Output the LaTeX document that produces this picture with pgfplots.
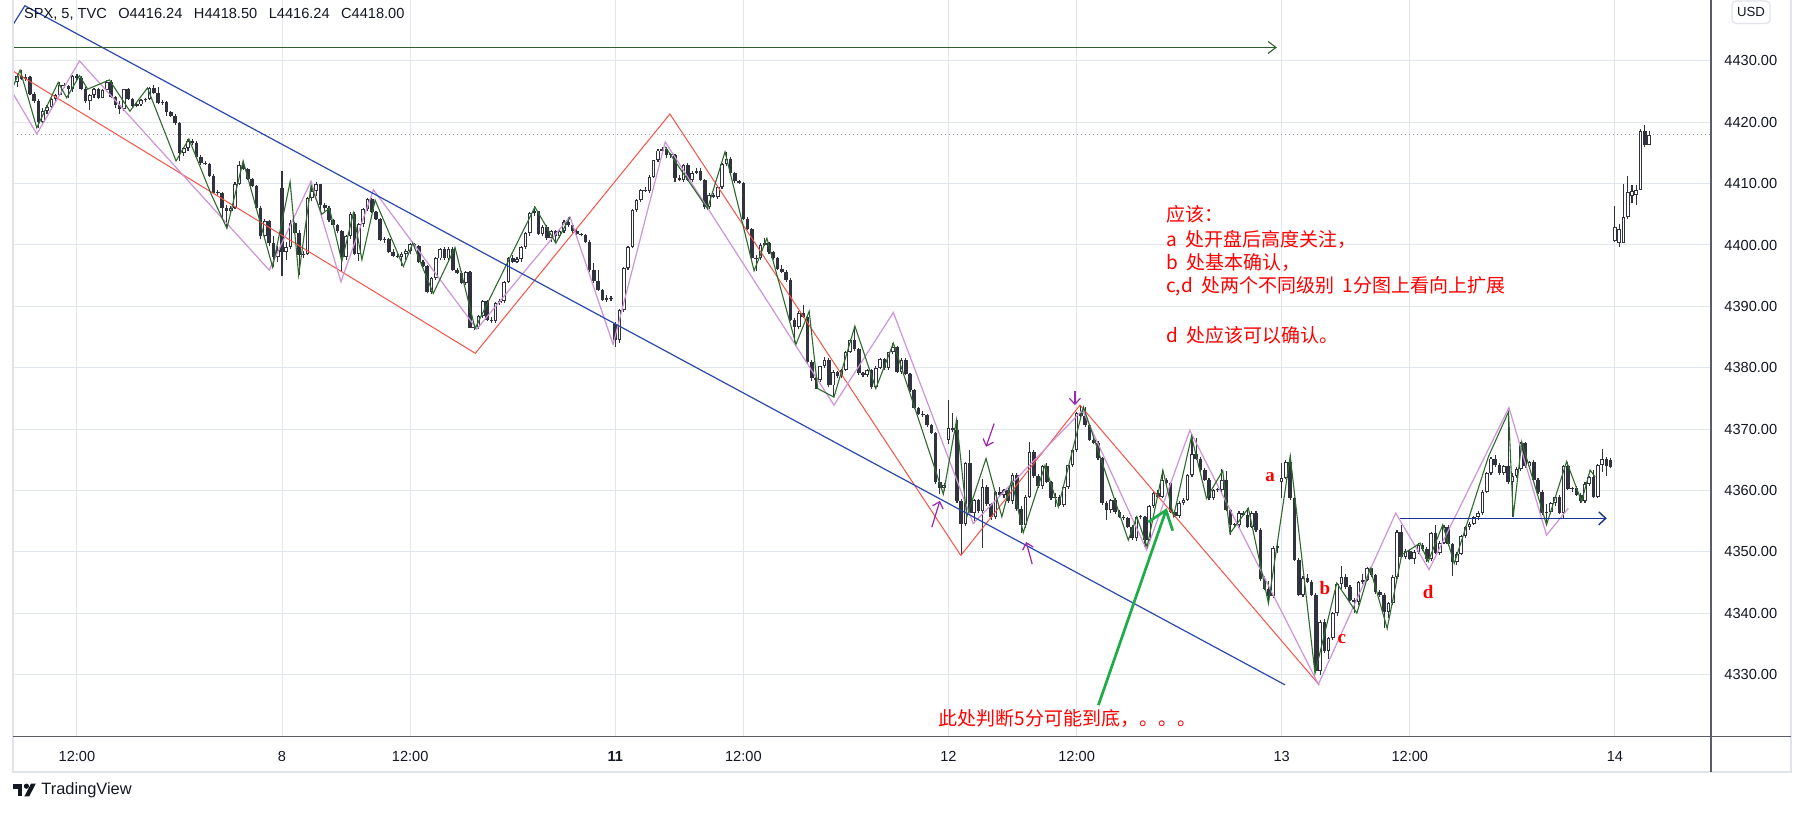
\documentclass[border=0pt]{standalone}
\usepackage{fontspec}
\setmainfont{Liberation Sans}
\newfontfamily\cjk{Noto Sans CJK SC}
\newfontfamily\serifm{Liberation Serif}
\usepackage{pgfplots}
\usepackage{pgfplotstable}
\pgfplotsset{compat=1.18}
\usetikzlibrary{arrows.meta}

\definecolor{cdark}{RGB}{48,51,62}
\definecolor{gridc}{RGB}{226,231,238}
\definecolor{zzgreen}{RGB}{46,106,46}
\definecolor{zzviolet}{RGB}{206,147,216}
\definecolor{zzred}{RGB}{245,82,72}
\definecolor{tblue}{RGB}{43,72,175}
\definecolor{hgreen}{RGB}{45,95,45}
\definecolor{hblue}{RGB}{25,50,150}
\definecolor{bgreen}{RGB}{28,172,72}
\definecolor{apurple}{RGB}{156,39,176}
\definecolor{tvtext}{RGB}{19,23,34}
\definecolor{axisc}{RGB}{90,93,104}
\definecolor{framec}{RGB}{224,227,235}
\definecolor{annred}{RGB}{255,0,0}
\definecolor{pricedot}{RGB}{150,155,165}

\pgfplotstableread{
b o h l c
-62 4426.6 4427.9 4425.8 4427.6
-61 4427.6 4428.5 4426.9 4427.1
-60 4427.1 4427.9 4426.7 4427.3
-59 4427.3 4427.5 4424.4 4424.6
-58 4424.6 4425.0 4423.2 4423.4
-57 4423.4 4423.8 4419.1 4420.1
-56 4420.1 4422.3 4419.6 4421.9
-55 4421.9 4422.8 4421.4 4422.5
-54 4422.5 4424.0 4422.0 4423.8
-53 4423.8 4424.6 4423.4 4424.5
-52 4424.5 4426.5 4424.3 4426.1
-51 4426.1 4426.4 4425.6 4425.9
-50 4425.9 4426.1 4424.0 4425.4
-49 4425.4 4427.7 4425.0 4427.5
-48 4427.5 4427.9 4426.9 4427.2
-47 4427.2 4427.6 4425.2 4425.5
-46 4425.5 4425.7 4423.2 4423.4
-45 4423.4 4424.6 4422.0 4424.5
-44 4424.5 4425.6 4424.0 4425.4
-43 4425.4 4425.6 4423.8 4424.0
-42 4424.0 4425.5 4423.9 4425.3
-41 4425.3 4426.9 4425.1 4426.6
-40 4426.6 4426.9 4424.0 4424.1
-39 4424.1 4424.3 4422.3 4422.8
-38 4422.8 4423.5 4421.3 4422.1
-37 4422.1 4425.5 4421.9 4425.4
-36 4425.4 4425.6 4423.6 4423.8
-35 4423.8 4424.0 4422.5 4422.7
-34 4422.7 4423.1 4422.5 4422.9
-33 4422.9 4423.8 4422.7 4423.6
-32 4423.6 4424.0 4423.3 4423.8
-31 4423.8 4425.8 4423.6 4425.6
-30 4425.6 4426.1 4424.6 4424.8
-29 4424.8 4425.7 4422.9 4423.1
-28 4423.1 4423.6 4422.8 4423.3
-27 4423.3 4423.5 4421.0 4421.6
-26 4421.6 4421.9 4420.9 4421.1
-25 4421.1 4421.3 4419.6 4419.9
-24 4419.9 4420.0 4413.7 4415.0
-23 4415.0 4416.0 4414.5 4415.8
-22 4415.8 4417.3 4415.4 4416.9
-21 4416.9 4417.2 4416.3 4416.6
-20 4416.6 4416.9 4414.2 4414.4
-19 4414.4 4414.6 4413.1 4413.3
-18 4413.3 4413.7 4413.0 4413.2
-17 4413.2 4413.4 4411.1 4411.3
-16 4411.3 4411.5 4408.3 4408.4
-15 4408.4 4408.9 4408.1 4408.5
-14 4408.5 4408.6 4404.4 4406.1
-13 4406.1 4406.5 4402.7 4405.5
-12 4405.5 4406.3 4405.0 4406.1
-11 4406.1 4410.2 4405.9 4410.0
-10 4410.0 4413.7 4409.8 4413.0
-9 4413.0 4413.7 4412.2 4412.4
-8 4412.4 4412.6 4410.6 4410.8
-7 4410.8 4411.0 4409.4 4409.6
-6 4409.6 4409.8 4405.9 4406.1
-5 4406.1 4406.3 4400.9 4401.4
-4 4401.4 4404.2 4401.0 4403.9
-3 4403.9 4404.0 4399.9 4400.4
-2 4400.4 4401.5 4396.4 4398.0
-1 4398.0 4399.9 4397.3 4399.2
0 4409.3 4412.1 4394.9 4398.9
1 4398.9 4400.5 4397.5 4399.6
2 4399.6 4404.0 4399.3 4403.6
3 4403.6 4403.8 4401.8 4402.0
4 4402.0 4402.4 4395.1 4398.4
5 4398.4 4399.0 4397.8 4398.6
6 4398.6 4407.8 4398.3 4407.6
7 4407.6 4409.7 4407.2 4408.8
8 4408.8 4410.3 4408.0 4409.9
9 4409.9 4410.0 4405.4 4406.5
10 4406.5 4406.8 4405.5 4406.0
11 4406.0 4406.3 4403.7 4404.0
12 4404.0 4404.3 4403.0 4403.3
13 4403.3 4403.5 4401.9 4402.2
14 4402.2 4402.5 4395.6 4398.1
15 4398.1 4401.7 4397.5 4401.5
16 4401.5 4405.3 4401.0 4405.1
17 4405.1 4405.3 4398.3 4398.6
18 4398.6 4403.6 4397.4 4403.4
19 4403.4 4406.0 4403.0 4405.9
20 4405.9 4407.6 4405.5 4407.5
21 4407.5 4407.7 4405.2 4405.4
22 4405.4 4405.6 4404.0 4404.2
23 4404.2 4404.4 4400.6 4400.8
24 4400.8 4401.3 4400.4 4401.0
25 4401.0 4401.2 4398.7 4398.9
26 4398.9 4399.4 4398.0 4398.2
27 4398.2 4398.6 4397.8 4398.1
28 4398.1 4398.8 4396.5 4398.5
29 4398.5 4399.3 4397.6 4399.0
30 4399.0 4400.3 4398.6 4400.1
31 4400.1 4400.4 4399.6 4399.8
32 4399.8 4400.0 4397.1 4397.3
33 4397.3 4397.6 4396.4 4396.6
34 4396.6 4396.8 4392.1 4392.4
35 4392.4 4394.8 4392.0 4394.6
36 4394.6 4398.0 4394.3 4397.8
37 4397.8 4399.5 4397.5 4399.3
38 4399.3 4399.6 4397.6 4397.8
39 4397.8 4399.6 4397.5 4399.4
40 4399.4 4399.7 4395.7 4395.9
41 4395.9 4396.2 4395.2 4395.4
42 4395.4 4395.8 4393.6 4393.8
43 4393.8 4395.8 4393.5 4395.6
44 4395.6 4395.8 4386.4 4386.5
45 4386.5 4387.0 4386.2 4386.7
46 4386.7 4388.6 4386.3 4388.4
47 4388.4 4391.0 4388.1 4390.8
48 4390.8 4391.0 4387.6 4387.8
49 4387.8 4388.2 4387.3 4387.6
50 4387.6 4390.7 4387.3 4390.5
51 4390.5 4391.2 4390.3 4390.9
52 4390.9 4394.2 4390.6 4394.0
53 4394.0 4398.0 4393.8 4397.8
54 4397.8 4398.3 4397.0 4397.3
55 4397.3 4398.0 4397.0 4397.7
56 4397.7 4399.9 4397.3 4399.7
57 4399.7 4402.1 4399.4 4401.9
58 4401.9 4405.4 4401.4 4405.2
59 4405.2 4406.3 4404.8 4405.5
60 4405.5 4405.6 4401.6 4401.8
61 4401.8 4403.2 4401.5 4403.0
62 4403.0 4403.2 4400.8 4401.1
63 4401.1 4402.4 4400.5 4402.2
64 4402.2 4402.4 4400.3 4401.4
65 4401.4 4402.5 4401.1 4402.3
66 4402.3 4404.0 4402.0 4403.8
67 4403.8 4404.5 4402.9 4403.3
68 4403.3 4403.6 4402.0 4402.3
69 4402.3 4402.6 4401.5 4401.8
70 4401.8 4402.0 4401.4 4401.6
71 4401.6 4401.8 4400.3 4400.5
72 4400.5 4400.8 4395.6 4395.9
73 4395.9 4397.0 4393.8 4394.2
74 4394.2 4395.9 4392.5 4392.7
75 4392.7 4392.9 4390.8 4391.0
76 4391.0 4391.8 4390.7 4391.3
77 4391.3 4391.7 4390.9 4391.2
78 4387.2 4387.5 4383.4 4384.5
79 4384.5 4389.6 4384.0 4389.4
80 4389.4 4396.4 4389.1 4396.2
81 4396.2 4399.9 4396.0 4399.7
82 4399.7 4405.9 4399.5 4405.7
83 4405.7 4407.5 4405.4 4407.3
84 4407.3 4409.2 4407.0 4409.0
85 4409.0 4409.4 4408.6 4408.8
86 4408.8 4411.4 4408.5 4411.1
87 4411.1 4413.9 4410.9 4413.8
88 4413.8 4415.6 4413.5 4415.4
89 4415.4 4416.0 4415.0 4415.7
90 4415.7 4416.0 4414.2 4414.6
91 4414.6 4415.0 4414.2 4414.7
92 4414.7 4414.9 4410.3 4410.9
93 4410.9 4411.4 4410.4 4410.6
94 4410.6 4413.2 4410.3 4413.0
95 4413.0 4413.3 4410.4 4410.6
96 4410.6 4412.0 4410.3 4411.8
97 4411.8 4412.5 4411.5 4412.0
98 4412.0 4412.6 4410.4 4410.6
99 4410.6 4410.8 4405.9 4406.2
100 4406.2 4408.4 4405.9 4408.2
101 4408.2 4408.5 4407.6 4407.8
102 4407.8 4409.6 4407.5 4409.4
103 4409.4 4413.4 4409.1 4413.2
104 4413.2 4415.2 4412.8 4414.0
105 4414.0 4414.4 4411.4 4411.7
106 4411.7 4411.9 4410.1 4410.4
107 4410.4 4410.6 4409.9 4410.1
108 4410.1 4410.3 4404.1 4404.3
109 4404.3 4404.6 4402.4 4402.6
110 4402.6 4402.8 4397.5 4397.8
111 4397.8 4398.3 4395.8 4397.9
112 4397.9 4400.3 4397.5 4400.0
113 4400.0 4401.1 4399.8 4400.3
114 4400.3 4400.5 4398.6 4398.8
115 4398.8 4399.0 4397.6 4397.8
116 4397.8 4398.0 4395.9 4396.1
117 4396.1 4396.8 4395.4 4395.6
118 4395.6 4395.9 4394.0 4394.3
119 4394.3 4394.6 4387.6 4387.8
120 4387.8 4388.1 4383.8 4386.7
121 4386.7 4389.2 4386.3 4388.9
122 4388.9 4390.2 4388.1 4388.3
123 4388.3 4388.6 4380.8 4381.0
124 4381.0 4381.3 4377.9 4378.3
125 4378.3 4378.6 4376.6 4378.0
126 4378.0 4380.3 4377.7 4380.2
127 4380.2 4381.7 4379.9 4381.3
128 4381.3 4381.6 4376.8 4377.1
129 4377.1 4379.6 4375.2 4379.3
130 4379.3 4379.5 4378.4 4378.6
131 4378.6 4379.8 4378.4 4379.6
132 4379.6 4382.7 4379.4 4382.6
133 4382.6 4384.6 4382.4 4384.5
134 4384.5 4386.8 4382.8 4383.0
135 4383.0 4383.2 4378.8 4379.1
136 4379.1 4379.3 4378.5 4378.8
137 4378.8 4379.8 4378.5 4379.6
138 4379.6 4379.8 4376.6 4376.8
139 4376.8 4380.2 4376.5 4380.0
140 4380.0 4381.6 4379.8 4381.4
141 4381.4 4381.6 4379.6 4380.0
142 4380.0 4382.6 4379.7 4382.5
143 4382.5 4384.0 4382.2 4383.3
144 4383.3 4383.5 4379.1 4379.3
145 4379.3 4381.5 4379.0 4381.2
146 4381.2 4381.5 4378.8 4379.0
147 4379.0 4379.2 4376.1 4376.3
148 4376.3 4376.5 4373.2 4373.4
149 4373.4 4373.6 4372.3 4372.5
150 4372.5 4372.9 4372.0 4372.3
151 4372.3 4372.5 4370.4 4370.6
152 4370.6 4370.8 4369.2 4369.4
153 4369.4 4369.6 4361.1 4361.4
154 4361.4 4363.5 4359.4 4360.4
155 4360.4 4361.2 4359.9 4360.9
156 4368.2 4374.8 4367.6 4370.1
157 4370.1 4372.6 4369.5 4369.8
158 4369.8 4371.5 4358.0 4358.2
159 4358.2 4358.6 4349.7 4354.6
160 4354.6 4364.7 4354.2 4364.4
161 4364.4 4366.6 4356.0 4356.3
162 4356.3 4358.6 4355.0 4358.4
163 4358.4 4358.6 4356.3 4356.6
164 4356.6 4361.8 4350.6 4360.6
165 4360.6 4360.9 4357.5 4357.8
166 4357.8 4358.0 4355.2 4355.6
167 4355.6 4359.9 4355.3 4359.8
168 4359.8 4360.5 4358.9 4359.2
169 4359.2 4360.2 4358.8 4360.0
170 4360.0 4360.7 4357.9 4358.2
171 4358.2 4362.8 4357.8 4362.5
172 4362.5 4362.8 4356.6 4357.0
173 4357.0 4357.4 4353.1 4354.4
174 4354.4 4359.2 4353.8 4359.0
175 4359.0 4367.9 4358.7 4366.3
176 4366.3 4366.6 4362.0 4362.3
177 4362.3 4362.7 4360.4 4360.7
178 4360.7 4364.1 4360.3 4363.9
179 4363.9 4364.4 4361.2 4361.4
180 4361.4 4361.6 4358.4 4358.7
181 4358.7 4359.5 4357.3 4359.0
182 4359.0 4359.3 4357.4 4357.6
183 4357.6 4360.8 4357.3 4360.6
184 4360.6 4364.2 4360.3 4364.1
185 4364.1 4366.8 4363.8 4366.6
186 4366.6 4372.8 4366.3 4372.6
187 4372.6 4373.8 4371.9 4372.2
188 4372.2 4373.6 4370.4 4370.7
189 4370.7 4370.9 4368.0 4368.2
190 4368.2 4368.5 4367.5 4367.8
191 4367.8 4368.0 4365.0 4365.3
192 4365.3 4365.5 4357.7 4357.9
193 4357.9 4358.2 4355.2 4356.8
194 4356.8 4358.6 4356.4 4358.4
195 4358.4 4358.7 4356.2 4356.5
196 4356.5 4356.8 4355.5 4355.7
197 4355.7 4356.0 4355.2 4355.5
198 4355.5 4355.7 4353.8 4354.1
199 4354.1 4354.3 4351.9 4352.2
200 4352.2 4355.9 4351.8 4355.7
201 4355.7 4356.0 4355.3 4355.6
202 4355.6 4355.8 4350.8 4351.9
203 4351.9 4357.6 4351.5 4357.4
204 4357.4 4359.7 4357.1 4359.5
205 4359.5 4360.0 4358.8 4359.0
206 4359.0 4363.3 4358.7 4361.7
207 4361.7 4362.0 4360.9 4361.2
208 4361.2 4361.4 4356.3 4356.5
209 4356.5 4356.8 4355.6 4355.8
210 4355.8 4358.2 4355.5 4358.0
211 4358.0 4358.8 4357.6 4358.5
212 4358.5 4362.6 4358.2 4362.5
213 4362.5 4368.8 4362.2 4366.0
214 4366.0 4368.5 4365.0 4365.2
215 4365.2 4365.4 4363.0 4363.4
216 4363.4 4363.6 4361.5 4361.7
217 4361.7 4362.0 4358.5 4358.7
218 4358.7 4360.3 4358.4 4360.1
219 4360.1 4360.4 4359.7 4360.0
220 4360.0 4363.5 4359.6 4361.7
221 4361.7 4363.2 4356.6 4356.8
222 4356.8 4357.0 4352.8 4354.4
223 4354.4 4354.7 4353.9 4354.3
224 4354.3 4356.6 4353.9 4356.3
225 4356.3 4356.6 4355.8 4356.0
226 4356.0 4357.1 4353.8 4354.1
227 4354.1 4356.6 4353.9 4356.3
228 4356.3 4356.6 4353.3 4353.6
229 4353.6 4353.9 4345.2 4345.5
230 4345.5 4346.0 4343.7 4344.0
231 4344.0 4345.3 4341.6 4342.8
232 4342.8 4350.9 4342.5 4350.6
233 4350.6 4351.3 4349.8 4350.9
234 4361.4 4364.4 4358.7 4362.0
235 4362.0 4365.0 4361.8 4364.7
236 4364.7 4365.8 4358.5 4358.7
237 4358.7 4359.0 4348.5 4348.7
238 4348.7 4349.0 4342.8 4343.0
239 4343.0 4346.1 4342.7 4345.8
240 4345.8 4346.4 4344.9 4345.1
241 4345.1 4345.4 4342.8 4343.0
242 4343.0 4343.3 4330.2 4330.6
243 4330.6 4338.8 4329.9 4338.6
244 4338.6 4339.1 4333.5 4333.8
245 4333.8 4336.1 4332.5 4335.9
246 4335.9 4340.2 4335.6 4340.0
247 4340.0 4344.9 4339.6 4344.7
248 4344.7 4347.6 4343.9 4345.9
249 4345.9 4346.3 4344.0 4344.3
250 4344.3 4344.6 4342.0 4342.2
251 4342.2 4342.5 4340.0 4341.8
252 4341.8 4345.3 4341.3 4345.1
253 4345.1 4346.3 4344.8 4345.4
254 4345.4 4347.5 4345.2 4347.3
255 4347.3 4347.6 4345.9 4346.2
256 4346.2 4346.4 4343.1 4343.4
257 4343.4 4343.7 4342.6 4342.9
258 4342.9 4343.2 4337.5 4340.2
259 4340.2 4341.8 4339.2 4341.6
260 4341.6 4346.2 4341.3 4345.9
261 4345.9 4353.6 4345.6 4353.3
262 4353.3 4354.4 4349.0 4349.2
263 4349.2 4350.5 4348.9 4350.2
264 4350.2 4350.5 4348.6 4348.9
265 4348.9 4350.3 4348.0 4350.0
266 4350.0 4351.4 4349.7 4351.1
267 4351.1 4351.4 4350.1 4350.4
268 4350.4 4350.7 4348.4 4348.8
269 4348.8 4353.2 4348.5 4353.0
270 4353.0 4354.4 4349.6 4349.8
271 4349.8 4351.7 4349.5 4351.5
272 4351.5 4354.3 4351.2 4354.1
273 4354.1 4354.4 4351.0 4351.2
274 4351.2 4351.4 4346.0 4348.4
275 4348.4 4350.0 4347.8 4349.7
276 4349.7 4352.7 4349.4 4352.5
277 4352.5 4354.2 4352.2 4354.0
278 4354.0 4354.8 4353.6 4354.6
279 4354.6 4355.9 4354.3 4355.7
280 4355.7 4356.6 4355.2 4356.3
281 4356.3 4360.0 4356.0 4359.8
282 4359.8 4363.0 4359.5 4362.8
283 4362.8 4365.5 4362.5 4365.2
284 4365.2 4365.7 4363.8 4364.1
285 4364.1 4364.4 4362.5 4362.8
286 4362.8 4364.2 4362.5 4364.0
287 4364.0 4372.8 4361.0 4361.4
288 4361.4 4362.8 4355.7 4362.4
289 4362.4 4363.8 4362.0 4363.5
290 4363.5 4367.9 4363.2 4367.7
291 4367.7 4367.9 4363.7 4363.9
292 4363.9 4364.8 4363.6 4364.6
293 4364.6 4364.9 4361.5 4361.7
294 4361.7 4362.0 4359.4 4359.7
295 4359.7 4360.0 4356.0 4356.4
296 4356.4 4357.8 4354.4 4356.5
297 4356.5 4358.1 4356.2 4357.9
298 4357.9 4359.1 4357.5 4358.9
299 4358.9 4359.2 4356.1 4356.3
300 4356.3 4364.1 4355.5 4363.9
301 4363.9 4364.7 4360.1 4360.3
302 4360.3 4360.6 4359.8 4360.4
303 4360.4 4360.8 4359.1 4359.3
304 4359.3 4359.5 4357.9 4358.2
305 4358.2 4361.3 4357.9 4361.1
306 4361.1 4362.4 4360.8 4362.2
307 4362.2 4363.3 4358.8 4359.0
308 4359.0 4364.3 4358.7 4364.1
309 4364.1 4366.7 4363.0 4365.1
310 4365.1 4365.4 4362.3 4363.9
311 4365.0 4365.3 4363.6 4363.8
312 4400.6 4406.4 4400.5 4403.0
313 4400.4 4403.4 4399.6 4402.6
314 4400.4 4410.0 4400.3 4404.5
315 4404.5 4411.3 4404.2 4408.6
316 4408.0 4409.8 4406.8 4408.8
317 4408.2 4409.8 4406.5 4409.0
318 4409.0 4418.9 4408.9 4418.5
319 4418.5 4419.6 4416.0 4416.3
320 4416.24 4418.5 4416.24 4418.0
}\candles

\pgfplotsset{candle/.style={draw=none, mark=none,
  error bars/y dir=plus, error bars/y explicit, error bars/error mark=none}}

\begin{document}
\begin{tikzpicture}
\path[use as bounding box] (0,0) rectangle (902pt,410.5pt);
\fill[white] (0,0) rectangle (902pt,410.5pt);
\begin{axis}[
  at={(6.5pt,42.25pt)}, anchor=south west,
  scale only axis, width=849pt, height=368.25pt,
  xmin=-62.97, xmax=334.5, ymin=4319.89, ymax=4439.93,
  axis line style={draw=none},
  major tick length=0pt,
  grid=major, major grid style={draw=gridc, line width=0.5pt},
  xtick={-48,0,30,78,108,156,186,234,264,312},
  xticklabels={12:00,8,12:00,\textbf{11},12:00,12,12:00,13,12:00,14},
  ytick={4330,4340,4350,4360,4370,4380,4390,4400,4410,4420,4430},
  yticklabels={4330.00,4340.00,4350.00,4360.00,4370.00,4380.00,4390.00,4400.00,4410.00,4420.00,4430.00},
  yticklabel pos=right,
  xticklabel style={anchor=center, yshift=-9.75pt, inner sep=0pt},
  yticklabel style={anchor=west, xshift=6.5pt, inner sep=0pt},
  tick label style={font=\fontsize{7.3pt}{8.5pt}\selectfont, text=tvtext},
  clip mode=individual,
]
% current price line
\addplot[pricedot, line width=0.5pt, dash pattern=on 0.5pt off 1.5pt] coordinates {(-62.97,4418.0) (334.5,4418.0)};
% wicks
\addplot[candle, error bars/error bar style={draw=cdark, line width=0.55pt}]
  table[x=b, y=l, y error plus expr={\thisrow{h}-\thisrow{l}}] {\candles};
% down bodies
\addplot[candle, restrict y to domain=4000:5000, error bars/error bar style={draw=cdark, line width=1.8pt}]
  table[x=b, y expr={ifthenelse(\thisrow{c}<\thisrow{o},\thisrow{c},9000)},
        y error plus expr={max(\thisrow{o}-\thisrow{c},0.16)}] {\candles};
% up bodies (outline)
\addplot[candle, restrict y to domain=4000:5000, error bars/error bar style={draw=cdark, line width=1.8pt}]
  table[x=b, y expr={ifthenelse(\thisrow{c}<\thisrow{o},9000,\thisrow{o})},
        y error plus expr={max(\thisrow{c}-\thisrow{o},0.16)}] {\candles};
% up bodies (hollow)
\addplot[candle, restrict y to domain=4000:5000, error bars/error bar style={draw=white, line width=0.8pt}]
  table[x=b, y expr={ifthenelse(\thisrow{c}<\thisrow{o},9000,\thisrow{o}+0.16)},
        y error plus expr={max(\thisrow{c}-\thisrow{o}-0.32,0)}] {\candles};

% red zigzag
\addplot[zzred, line width=0.5pt] coordinates {(-62.97,4428.35) (45.25,4382.35) (90.8,4421.35) (158.9,4349.4) (186.8,4373.9) (242.8,4328.3)};
% violet zigzag
\addplot[zzviolet, line width=0.6pt] coordinates {(-62.97,4424.7) (-57.4,4418.1) (-47.4,4430.0) (-3.0,4395.9) (6.8,4410.4) (13.8,4394.0) (21.4,4409.0) (45.6,4386.3) (67.4,4404.6) (77.5,4383.8) (89.7,4416.8) (129.2,4373.9) (143.1,4389.0) (161.8,4354.6) (187.4,4373.1) (202.4,4350.3) (212.5,4369.8) (242.6,4328.4) (260.7,4356.3) (268.5,4347.1) (287.2,4373.5) (296.0,4352.7) (301.1,4357.1)};
% green zigzag
\addplot[zzgreen, line width=0.55pt] coordinates {(-62.97,4425.8) (-61.3,4428.5) (-57.4,4419.1) (-52.4,4426.5) (-50.4,4424.0) (-47.4,4427.6) (-45.5,4425.4) (-40.4,4426.9) (-35.6,4421.8) (-31.5,4425.6) (-24.8,4413.7) (-21.8,4417.3) (-16.6,4408.3) (-12.9,4402.7) (-9.1,4413.7) (-2.2,4396.4) (1.9,4410.3) (3.9,4395.1) (6.8,4409.7) (9.3,4405.0) (11.1,4406.0) (14.0,4397.3) (16.7,4405.2) (18.7,4397.6) (21.8,4407.3) (28.4,4396.5) (30.6,4400.3) (35.4,4392.1) (40.5,4399.6) (45.2,4386.4) (48.3,4390.8) (59.2,4406.2) (64.1,4400.3) (67.4,4404.5)};
\addplot[zzgreen, line width=0.55pt] coordinates {(89.7,4416.0) (99.6,4405.9) (103.7,4415.2) (107.6,4404.1) (110.5,4395.8) (113.5,4401.1) (120.3,4383.8) (123.4,4389.2) (125.4,4376.6) (129.2,4375.2) (134.1,4386.8) (139.0,4376.6) (143.1,4384.0) (154.8,4359.4) (157.9,4371.5) (160.3,4355.7) (164.8,4365.2) (168.5,4355.7) (170.8,4361.7) (173.5,4353.1) (178.6,4364.1) (181.7,4357.3) (187.6,4373.6) (191.5,4365.5) (198.1,4351.9) (200.1,4355.7) (202.5,4350.8) (206.2,4363.3) (208.7,4355.8) (212.9,4368.8) (216.4,4358.7) (220.2,4363.2) (221.9,4353.0) (226.2,4357.1) (230.9,4341.6) (236.0,4365.6) (241.8,4330.2) (246.9,4344.9) (251.6,4340.0) (254.7,4347.3) (258.7,4337.5) (262.1,4349.5) (266.4,4351.4) (268.3,4348.4) (271.7,4354.4) (274.4,4348.1) (282.4,4365.5) (287.1,4372.8) (288.2,4355.7) (290.2,4367.9) (296.0,4354.4) (300.7,4364.7) (304.2,4358.2) (306.2,4363.3) (307.4,4362.2)};
% blue trend line
\addplot[tblue, line width=0.6pt] coordinates {(-62.97,4435.9) (-60.2,4439.0) (234.8,4328.3)};
% dark green horizontal arrow
\addplot[hgreen, line width=0.55pt, -{Straight Barb[length=4pt,width=6pt]}] coordinates {(-62.97,4432.2) (232.9,4432.2)};
% blue horizontal arrow
\addplot[hblue, line width=0.7pt, -{Straight Barb[length=3.5pt,width=6.5pt]}] coordinates {(261.6,4355.45) (310.1,4355.45)};
% purple arrows
\addplot[apurple, line width=0.6pt, -{Straight Barb[length=3pt,width=5.5pt]}] coordinates {(152.1,4354.0) (154.0,4358.3)};
\addplot[apurple, line width=0.6pt, -{Straight Barb[length=3pt,width=5.5pt]}] coordinates {(166.7,4370.9) (164.8,4367.1)};
\addplot[apurple, line width=0.6pt, -{Straight Barb[length=3pt,width=5.5pt]}] coordinates {(175.6,4348.0) (174.2,4351.6)};
\addplot[apurple, line width=0.6pt, -{Straight Barb[length=3pt,width=5.5pt]}] coordinates {(185.6,4376.2) (185.6,4373.9)};
% big green arrow
\addplot[bgreen, line width=1.35pt, -{Straight Barb[length=8.5pt,width=13pt]}] coordinates {(191.1,4325.0) (207.1,4357.1)};

% annotations
\node[anchor=west, text=annred, inner sep=0pt, font=\cjk\fontsize{9.5pt}{9.5pt}\selectfont] at (axis cs:206.9,4405.05) {应该：};
\node[anchor=west, text=annred, inner sep=0pt, font=\cjk\fontsize{9.5pt}{9.5pt}\selectfont] at (axis cs:206.9,4400.9) {a\ \ 处开盘后高度关注，};
\node[anchor=west, text=annred, inner sep=0pt, font=\cjk\fontsize{9.5pt}{9.5pt}\selectfont] at (axis cs:206.9,4397.1) {b\ \ 处基本确认，};
\node[anchor=west, text=annred, inner sep=0pt, font=\cjk\fontsize{9.5pt}{9.5pt}\selectfont] at (axis cs:206.9,4393.2) {c,d\ \ 处两个不同级别\ \ 1分图上看向上扩展};
\node[anchor=west, text=annred, inner sep=0pt, font=\cjk\fontsize{9.5pt}{9.5pt}\selectfont] at (axis cs:206.9,4385.3) {d\ \ 处应该可以确认。};
\node[anchor=west, text=annred, inner sep=0pt, font=\cjk\fontsize{9.5pt}{9.5pt}\selectfont] at (axis cs:153.6,4322.9) {此处判断5分可能到底，。。。};
\node[text=annred, inner sep=0pt, font=\serifm\bfseries\fontsize{9.5pt}{9.5pt}\selectfont] at (axis cs:231.3,4362.2) {a};
\node[text=annred, inner sep=0pt, font=\serifm\bfseries\fontsize{9.5pt}{9.5pt}\selectfont] at (axis cs:244.1,4344.1) {b};
\node[text=annred, inner sep=0pt, font=\serifm\bfseries\fontsize{9.5pt}{9.5pt}\selectfont] at (axis cs:248.1,4335.7) {c};
\node[text=annred, inner sep=0pt, font=\serifm\bfseries\fontsize{9.5pt}{9.5pt}\selectfont] at (axis cs:268.3,4343.4) {d};
\end{axis}

% frame and axis lines
\draw[framec, line width=1pt] (6.3pt,410.5pt) -- (6.3pt,24.65pt) -- (895.5pt,24.65pt) -- (895.5pt,410.5pt);
\draw[axisc, line width=0.6pt] (6.3pt,42.25pt) -- (895.5pt,42.25pt);
\draw[axisc, line width=0.6pt] (855.5pt,24.65pt) -- (855.5pt,410.5pt);

% header
\node[anchor=base west, inner sep=0pt, text=tvtext, font=\fontsize{7.3pt}{8.5pt}\selectfont] at (11.85pt,401.35pt)
  {SPX, 5, TVC\hspace{5.75pt}O4416.24\hspace{5.75pt}H4418.50\hspace{5.75pt}L4416.24\hspace{5.75pt}C4418.00};

% USD box
\filldraw[fill=white, draw=framec, line width=0.6pt, rounded corners=2pt] (866pt,398.75pt) rectangle (885pt,410pt);
\node[inner sep=0pt, text=tvtext, font=\fontsize{6.6pt}{7pt}\selectfont] at (875.5pt,404.4pt) {USD};

% TradingView logo
\fill[tvtext] (6.5pt,16.2pt) rectangle (11.2pt,18.7pt);
\fill[tvtext] (8.9pt,12.3pt) rectangle (11.2pt,18.7pt);
\fill[tvtext] (13.2pt,17.4pt) circle (1.3pt);
\fill[tvtext] (12.2pt,12.3pt) -- (14.6pt,12.3pt) -- (17.9pt,18.7pt) -- (15.5pt,18.7pt) -- cycle;
\node[anchor=west, inner sep=0pt, text=tvtext, font=\fontsize{8.2pt}{9pt}\selectfont] at (20.5pt,15.5pt) {TradingView};
\end{tikzpicture}
\end{document}
